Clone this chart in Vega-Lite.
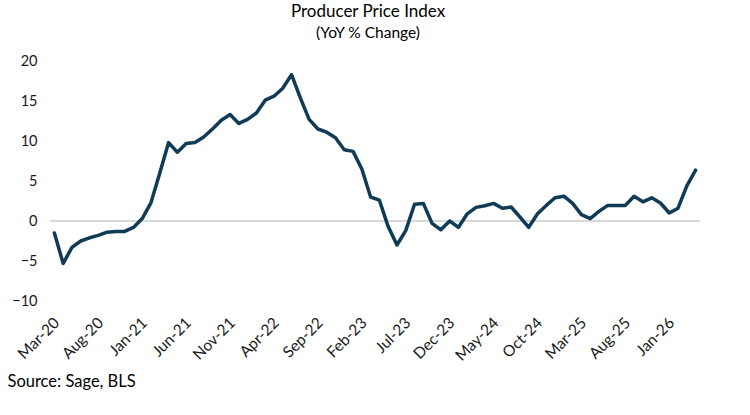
{
  "$schema": "https://vega.github.io/schema/vega-lite/v6.json",
  "autosize": {"type": "none"},
  "width": 650,
  "height": 240,
  "padding": {"left": 50, "top": 61, "right": 50, "bottom": 114},
  "background": "white",
  "title": {
    "text": "Producer Price Index",
    "subtitle": "(YoY % Change)",
    "font": "Lato",
    "fontSize": 17,
    "fontWeight": "normal",
    "color": "#000000",
    "subtitleFont": "Lato",
    "subtitleFontSize": 15.5,
    "subtitleColor": "#000000",
    "subtitlePadding": 5,
    "anchor": "middle",
    "dx": -7,
    "offset": 11
  },
  "config": {
    "view": {"stroke": null},
    "axisX": {
      "domain": false,
      "ticks": false,
      "grid": false,
      "labelAngle": -45,
      "labelPadding": 14,
      "labelOffset": -3,
      "labelOverlap": false,
      "labelFont": "Lato",
      "labelFontSize": 15.5,
      "labelColor": "#1a1a1a",
      "titleFont": "Lato",
      "titleFontSize": 16.5,
      "titleFontWeight": "normal",
      "titleColor": "#000000",
      "titleAnchor": "start",
      "titleAlign": "left",
      "titleBaseline": "alphabetic",
      "titleX": -43,
      "titleY": 85
    },
    "axisY": {
      "domain": false,
      "ticks": false,
      "grid": false,
      "labelPadding": 13,
      "labelOverlap": false,
      "labelFont": "Lato",
      "labelFontSize": 14.5,
      "labelColor": "#1a1a1a"
    }
  },
  "data": {
    "values": [
      {"month": "Mar-20", "ppi": -1.5},
      {"month": "Apr-20", "ppi": -5.3},
      {"month": "May-20", "ppi": -3.3},
      {"month": "Jun-20", "ppi": -2.5},
      {"month": "Jul-20", "ppi": -2.1},
      {"month": "Aug-20", "ppi": -1.8},
      {"month": "Sep-20", "ppi": -1.4},
      {"month": "Oct-20", "ppi": -1.3},
      {"month": "Nov-20", "ppi": -1.3},
      {"month": "Dec-20", "ppi": -0.8},
      {"month": "Jan-21", "ppi": 0.3},
      {"month": "Feb-21", "ppi": 2.3},
      {"month": "Mar-21", "ppi": 6.0},
      {"month": "Apr-21", "ppi": 9.8},
      {"month": "May-21", "ppi": 8.6},
      {"month": "Jun-21", "ppi": 9.7},
      {"month": "Jul-21", "ppi": 9.8},
      {"month": "Aug-21", "ppi": 10.5},
      {"month": "Sep-21", "ppi": 11.5},
      {"month": "Oct-21", "ppi": 12.6},
      {"month": "Nov-21", "ppi": 13.3},
      {"month": "Dec-21", "ppi": 12.2},
      {"month": "Jan-22", "ppi": 12.7},
      {"month": "Feb-22", "ppi": 13.5},
      {"month": "Mar-22", "ppi": 15.1},
      {"month": "Apr-22", "ppi": 15.6},
      {"month": "May-22", "ppi": 16.6},
      {"month": "Jun-22", "ppi": 18.3},
      {"month": "Jul-22", "ppi": 15.4},
      {"month": "Aug-22", "ppi": 12.7},
      {"month": "Sep-22", "ppi": 11.5},
      {"month": "Oct-22", "ppi": 11.1},
      {"month": "Nov-22", "ppi": 10.4},
      {"month": "Dec-22", "ppi": 8.9},
      {"month": "Jan-23", "ppi": 8.7},
      {"month": "Feb-23", "ppi": 6.5},
      {"month": "Mar-23", "ppi": 3.0},
      {"month": "Apr-23", "ppi": 2.6},
      {"month": "May-23", "ppi": -0.7},
      {"month": "Jun-23", "ppi": -3.0},
      {"month": "Jul-23", "ppi": -1.2},
      {"month": "Aug-23", "ppi": 2.1},
      {"month": "Sep-23", "ppi": 2.2},
      {"month": "Oct-23", "ppi": -0.3},
      {"month": "Nov-23", "ppi": -1.1},
      {"month": "Dec-23", "ppi": 0.0},
      {"month": "Jan-24", "ppi": -0.8},
      {"month": "Feb-24", "ppi": 0.9},
      {"month": "Mar-24", "ppi": 1.7},
      {"month": "Apr-24", "ppi": 1.9},
      {"month": "May-24", "ppi": 2.2},
      {"month": "Jun-24", "ppi": 1.6},
      {"month": "Jul-24", "ppi": 1.75},
      {"month": "Aug-24", "ppi": 0.5},
      {"month": "Sep-24", "ppi": -0.8},
      {"month": "Oct-24", "ppi": 0.9},
      {"month": "Nov-24", "ppi": 1.95},
      {"month": "Dec-24", "ppi": 2.9},
      {"month": "Jan-25", "ppi": 3.1},
      {"month": "Feb-25", "ppi": 2.2},
      {"month": "Mar-25", "ppi": 0.8},
      {"month": "Apr-25", "ppi": 0.3},
      {"month": "May-25", "ppi": 1.2},
      {"month": "Jun-25", "ppi": 1.95},
      {"month": "Jul-25", "ppi": 1.95},
      {"month": "Aug-25", "ppi": 1.95},
      {"month": "Sep-25", "ppi": 3.1},
      {"month": "Oct-25", "ppi": 2.4},
      {"month": "Nov-25", "ppi": 2.9},
      {"month": "Dec-25", "ppi": 2.25},
      {"month": "Jan-26", "ppi": 1.0},
      {"month": "Feb-26", "ppi": 1.6},
      {"month": "Mar-26", "ppi": 4.4},
      {"month": "Apr-26", "ppi": 6.35}
    ]
  },
  "layer": [
    {
      "mark": {"type": "rule", "color": "#d9d9d9", "strokeWidth": 1.5},
      "encoding": {
        "y": {
          "datum": 0,
          "type": "quantitative",
          "scale": {"domain": [-10, 20], "nice": false},
          "axis": {"values": [-10, -5, 0, 5, 10, 15, 20], "title": null, "labelOverlap": false}
        }
      }
    },
    {
      "mark": {"type": "line", "color": "#0f3b57", "strokeWidth": 3.5, "strokeJoin": "round", "strokeCap": "round"},
      "encoding": {
        "x": {
          "field": "month",
          "type": "ordinal",
          "sort": null,
          "scale": {"type": "point", "padding": 0.5},
          "axis": {
            "values": ["Mar-20", "Aug-20", "Jan-21", "Jun-21", "Nov-21", "Apr-22", "Sep-22", "Feb-23", "Jul-23", "Dec-23", "May-24", "Oct-24", "Mar-25", "Aug-25", "Jan-26"],
            "title": "Source: Sage, BLS"
          }
        },
        "y": {
          "field": "ppi",
          "type": "quantitative",
          "scale": {"domain": [-10, 20], "nice": false},
          "axis": {"values": [-10, -5, 0, 5, 10, 15, 20], "title": null, "labelOverlap": false}
        }
      }
    }
  ]
}
